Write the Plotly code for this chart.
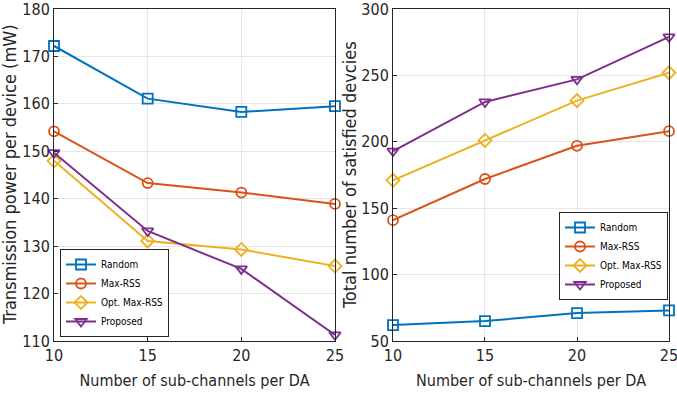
import plotly.graph_objects as go
from plotly.subplots import make_subplots

x_vals = [10, 15, 20, 25]
series_names = ["Random", "Max-RSS", "Opt. Max-RSS", "Proposed"]
power_random = [172.2, 161.1, 158.3, 159.5]
power_maxrss = [154.2, 143.3, 141.3, 138.9]
power_opt = [148.0, 131.1, 129.3, 125.8]
power_proposed = [149.7, 133.2, 125.2, 111.3]
sat_random = [62, 65, 71, 73]
sat_maxrss = [141, 172, 197, 208]
sat_opt = [171, 201, 231, 252]
sat_proposed = [193, 230, 247, 279]
left_ytitle = "Transmission power per device (mW)"
right_ytitle = "Total number of satisfied devcies"
xtitle = "Number of sub-channels per DA"

colors = ["#0072BD", "#D95319", "#EDB120", "#7E2F8E"]
symbols = ["square-open", "circle-open", "diamond-open", "triangle-down-open"]
font = "DejaVu Sans Condensed, Liberation Sans Narrow, Arial Narrow, Liberation Sans, Arial"
txt = "#262626"

fig = make_subplots(rows=1, cols=2)
left = [power_random, power_maxrss, power_opt, power_proposed]
right = [sat_random, sat_maxrss, sat_opt, sat_proposed]
for i, name in enumerate(series_names):
    fig.add_trace(go.Scatter(x=x_vals, y=left[i], name=name, mode="lines+markers",
                             line=dict(color=colors[i], width=2),
                             marker=dict(symbol=symbols[i], size=10, color=colors[i], line=dict(width=1.8, color=colors[i])),
                             legend="legend", cliponaxis=False), row=1, col=1)
for i, name in enumerate(series_names):
    fig.add_trace(go.Scatter(x=x_vals, y=right[i], name=name, mode="lines+markers",
                             line=dict(color=colors[i], width=2),
                             marker=dict(symbol=symbols[i], size=10, color=colors[i], line=dict(width=1.8, color=colors[i])),
                             legend="legend2", cliponaxis=False), row=1, col=2)

axis_common = dict(showline=True, linecolor=txt, linewidth=1, mirror=True,
                   showgrid=True, gridcolor="#e6e6e6", gridwidth=1, zeroline=False,
                   ticks="inside", ticklen=4, tickcolor=txt, automargin=False,
                   ticklabeloverflow="allow",
                   tickfont=dict(family=font, size=16, color=txt))
fig.update_xaxes(**axis_common, range=[10, 25], tickvals=x_vals,
                 title=dict(text=xtitle, font=dict(family=font, size=16, color=txt), standoff=10))
fig.update_xaxes(domain=[0.0798, 0.4948], row=1, col=1)
fig.update_xaxes(domain=[0.5805, 0.9882], row=1, col=2)
fig.update_yaxes(**axis_common)
fig.update_yaxes(domain=[0.1432, 0.9774], range=[110, 180], tickvals=[110, 120, 130, 140, 150, 160, 170, 180],
                 row=1, col=1)
fig.update_yaxes(domain=[0.1432, 0.9774], range=[50, 300], tickvals=[50, 100, 150, 200, 250, 300],
                 row=1, col=2)

ymid = 1 - 175 / 398
fig.add_annotation(text=left_ytitle, xref="paper", yref="paper", x=10/677, y=ymid,
                   textangle=-90, showarrow=False, xanchor="center", yanchor="middle",
                   font=dict(family=font, size=18, color=txt))
fig.add_annotation(text=right_ytitle, xref="paper", yref="paper", x=350/677, y=ymid,
                   textangle=-90, showarrow=False, xanchor="center", yanchor="middle",
                   font=dict(family=font, size=18, color=txt))

legend_common = dict(bgcolor="white", bordercolor=txt, borderwidth=1,
                     font=dict(family=font, size=10, color="#000"),
                     itemwidth=30, tracegroupgap=0)
fig.update_layout(
    width=677, height=398, margin=dict(l=0, r=0, t=0, b=0, autoexpand=False),
    paper_bgcolor="white", plot_bgcolor="white", showlegend=True,
    legend=dict(**legend_common, x=60/677, y=1-337/398, xanchor="left", yanchor="bottom"),
    legend2=dict(**legend_common, x=668/677, y=1-212/398, xanchor="right", yanchor="top"),
)
fig.write_html("out.html", config={"displayModeBar": False},
               post_script="document.body.style.margin='0';document.body.style.padding='0';")
